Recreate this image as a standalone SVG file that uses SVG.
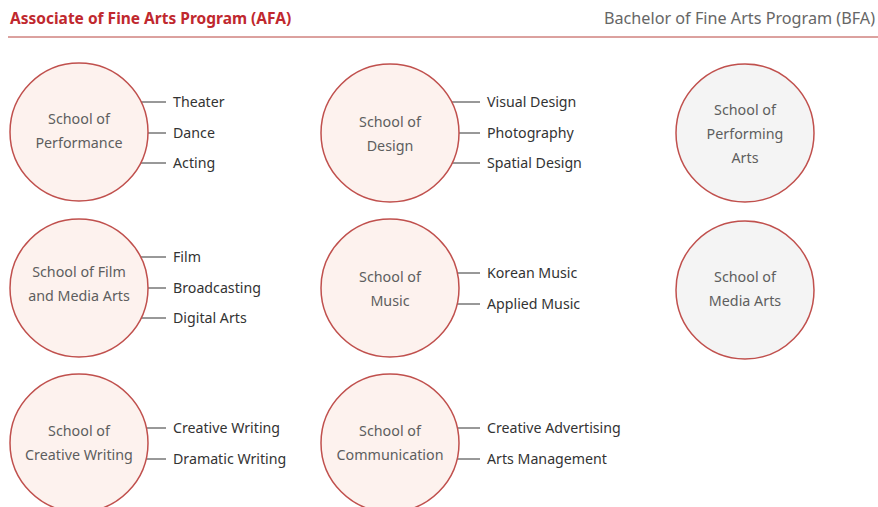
<svg xmlns="http://www.w3.org/2000/svg" width="878" height="507" viewBox="0 0 878 507">
<style>
.hdr{font-family:"Noto Sans","Open Sans",sans-serif}
.afa{fill:#c0282e;font-weight:bold;font-size:15.5px}
.bfa{fill:#666;font-size:16.2px}
.c{stroke:#c0504d;stroke-width:1.5;fill:#fdf2ee}
.g{stroke:#c0504d;stroke-width:1.5;fill:#f4f4f4}
.ct{font-family:"Noto Sans","Open Sans",sans-serif;font-size:14.3px;fill:#5e5e5e;text-anchor:middle}
.bt{font-family:"Noto Sans","Open Sans",sans-serif;font-size:14.2px;fill:#333}
.ln line{stroke:#333;stroke-width:1}
</style>
<rect width="878" height="507" fill="#fff"/>
<text class="hdr afa" x="10" y="24">Associate of Fine Arts Program (AFA)</text>
<text class="hdr bfa" x="875" y="24" text-anchor="end">Bachelor of Fine Arts Program (BFA)</text>
<line x1="8" y1="37" x2="878" y2="37" stroke="#b8453f" stroke-width="1"/>

<g id="connectors" class="ln">
<line x1="141" y1="102" x2="166" y2="102"/>
<line x1="148" y1="133" x2="166" y2="133"/>
<line x1="140.6" y1="163" x2="166" y2="163"/>
<line x1="451.6" y1="102" x2="480" y2="102"/>
<line x1="459" y1="133" x2="480" y2="133"/>
<line x1="452" y1="163" x2="480" y2="163"/>
<line x1="140.6" y1="257" x2="166" y2="257"/>
<line x1="148" y1="288" x2="166" y2="288"/>
<line x1="141" y1="318" x2="166" y2="318"/>
<line x1="457.4" y1="273" x2="480" y2="273"/>
<line x1="457" y1="304" x2="480" y2="304"/>
<line x1="146.4" y1="428" x2="166" y2="428"/>
<line x1="146.1" y1="459" x2="166" y2="459"/>
<line x1="457.4" y1="428" x2="480" y2="428"/>
<line x1="457.1" y1="459" x2="480" y2="459"/>
</g>

<g id="performance">
<circle class="c" cx="79" cy="132" r="69"/>
<text class="ct" x="79" y="124">School of</text>
<text class="ct" x="79" y="148">Performance</text>
</g>
<g id="performance-majors">
<text class="bt" x="173" y="107">Theater</text>
<text class="bt" x="173" y="138">Dance</text>
<text class="bt" x="173" y="168">Acting</text>
</g>

<g id="design">
<circle class="c" cx="390" cy="133" r="69"/>
<text class="ct" x="390" y="127">School of</text>
<text class="ct" x="390" y="151">Design</text>
</g>
<g id="design-majors">
<text class="bt" x="487" y="107">Visual Design</text>
<text class="bt" x="487" y="138">Photography</text>
<text class="bt" x="487" y="168">Spatial Design</text>
</g>

<g id="performing-arts">
<circle class="g" cx="745" cy="133" r="69"/>
<text class="ct" x="745" y="115">School of</text>
<text class="ct" x="745" y="139">Performing</text>
<text class="ct" x="745" y="163">Arts</text>
</g>

<g id="film">
<circle class="c" cx="79" cy="288" r="69"/>
<text class="ct" x="79" y="277">School of Film</text>
<text class="ct" x="79" y="301">and Media Arts</text>
</g>
<g id="film-majors">
<text class="bt" x="173" y="262">Film</text>
<text class="bt" x="173" y="293">Broadcasting</text>
<text class="bt" x="173" y="323">Digital Arts</text>
</g>

<g id="music">
<circle class="c" cx="390" cy="288" r="69"/>
<text class="ct" x="390" y="282">School of</text>
<text class="ct" x="390" y="306">Music</text>
</g>
<g id="music-majors">
<text class="bt" x="487" y="278">Korean Music</text>
<text class="bt" x="487" y="309">Applied Music</text>
</g>

<g id="media-arts">
<circle class="g" cx="745" cy="290" r="69"/>
<text class="ct" x="745" y="282">School of</text>
<text class="ct" x="745" y="306">Media Arts</text>
</g>

<g id="creative-writing">
<circle class="c" cx="79" cy="443" r="69"/>
<text class="ct" x="79" y="436">School of</text>
<text class="ct" x="79" y="460">Creative Writing</text>
</g>
<g id="writing-majors">
<text class="bt" x="173" y="433">Creative Writing</text>
<text class="bt" x="173" y="464">Dramatic Writing</text>
</g>

<g id="communication">
<circle class="c" cx="390" cy="443" r="69"/>
<text class="ct" x="390" y="436">School of</text>
<text class="ct" x="390" y="460">Communication</text>
</g>
<g id="communication-majors">
<text class="bt" x="487" y="433">Creative Advertising</text>
<text class="bt" x="487" y="464">Arts Management</text>
</g>
</svg>
